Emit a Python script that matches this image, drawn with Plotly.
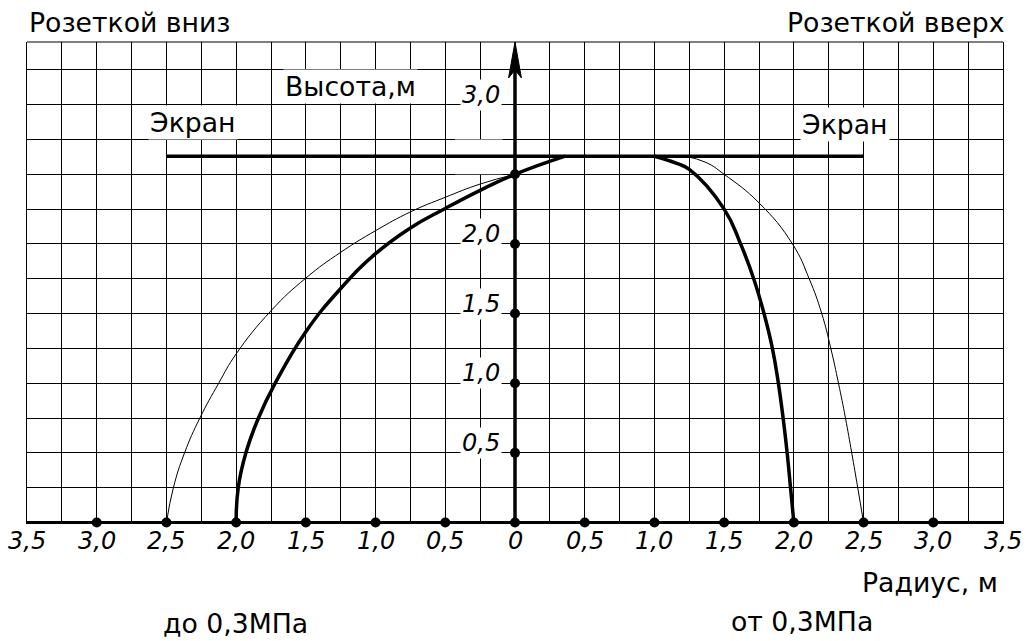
import plotly.graph_objects as go

# ---- tick values and labels ----
x_tick_vals = [-3.5, -3.0, -2.5, -2.0, -1.5, -1.0, -0.5, 0.0, 0.5, 1.0, 1.5, 2.0, 2.5, 3.0, 3.5]
x_tick_text = ["3,5", "3,0", "2,5", "2,0", "1,5", "1,0", "0,5", "0",
               "0,5", "1,0", "1,5", "2,0", "2,5", "3,0", "3,5"]
x_dot_vals = [-3.0, -2.5, -2.0, -1.5, -1.0, -0.5, 0.0, 0.5, 1.0, 1.5, 2.0, 2.5, 3.0]
y_tick_vals = [0.5, 1.0, 1.5, 2.0, 3.0]
y_tick_text = ["0,5", "1,0", "1,5", "2,0", "3,0"]
y_dot_vals = [0.5, 1.0, 1.5, 2.0, 2.5]

# ---- screen (Экран) ----
screen_x = [-2.5, 2.5]
screen_height = 2.63

# ---- left side: rosette down (до 0,3 МПа) ----
down_thick_x = [-2.0, -1.985, -1.93, -1.84, -1.72, -1.5, -1.25, -1.0, -0.75, -0.5, -0.25, 0.0, 0.36]
down_thick_y = [0.0, 0.25, 0.5, 0.75, 1.0, 1.37, 1.68, 1.93, 2.115, 2.255, 2.385, 2.50, 2.63]
down_thin_x = [-2.5, -2.45, -2.37, -2.26, -2.125, -2.0, -1.75, -1.5, -1.25, -1.0, -0.75, -0.5, -0.25, 0.0]
down_thin_y = [0.0, 0.25, 0.5, 0.75, 1.0, 1.21, 1.52, 1.755, 1.94, 2.095, 2.23, 2.335, 2.43, 2.50]

# ---- right side: rosette up (от 0,3 МПа) ----
up_thick_x = [1.0, 1.155, 1.25, 1.5, 1.618, 1.712, 1.786, 1.846, 1.889, 1.923, 1.952, 1.976, 2.0]
up_thick_y = [2.63, 2.58, 2.535, 2.25, 2.0, 1.75, 1.5, 1.25, 1.0, 0.75, 0.5, 0.25, 0.0]
up_thin_x = [1.22, 1.37, 1.50, 1.75, 1.99, 2.11, 2.20, 2.265, 2.32, 2.37, 2.415, 2.458, 2.50]
up_thin_y = [2.63, 2.585, 2.5, 2.295, 2.0, 1.75, 1.5, 1.25, 1.0, 0.75, 0.5, 0.25, 0.0]

X_MIN, X_MAX = -3.5, 3.5
Y_MIN, Y_MAX = -0.011, 3.45
FONT = "DejaVu Sans"
SMOOTH = 1.3


def pxr(x):
    """data x -> paper x"""
    return (x - X_MIN) / (X_MAX - X_MIN)


def pyr(y):
    """data y -> paper y"""
    return (y - Y_MIN) / (Y_MAX - Y_MIN)


fig = go.Figure()

# axes drawn as thick lines
fig.add_trace(go.Scatter(x=[X_MIN, X_MAX], y=[0, 0], mode="lines",
                         line=dict(color="black", width=3), hoverinfo="skip"))
arrow_len = 0.258
fig.add_trace(go.Scatter(x=[0, 0], y=[0, Y_MAX - arrow_len * 0.6], mode="lines",
                         line=dict(color="black", width=3.5), hoverinfo="skip"))

# screen
fig.add_trace(go.Scatter(x=screen_x, y=[screen_height] * len(screen_x), mode="lines",
                         line=dict(color="black", width=3.5), hoverinfo="skip"))

# curves
fig.add_trace(go.Scatter(x=down_thin_x, y=down_thin_y, mode="lines",
                         line=dict(color="black", width=1, shape="spline", smoothing=SMOOTH)))
fig.add_trace(go.Scatter(x=down_thick_x, y=down_thick_y, mode="lines",
                         line=dict(color="black", width=3.5, shape="spline", smoothing=SMOOTH)))
fig.add_trace(go.Scatter(x=up_thin_x, y=up_thin_y, mode="lines",
                         line=dict(color="black", width=1, shape="spline", smoothing=SMOOTH)))
fig.add_trace(go.Scatter(x=up_thick_x, y=up_thick_y, mode="lines",
                         line=dict(color="black", width=3.5, shape="spline", smoothing=SMOOTH)))

# dots on axes
fig.add_trace(go.Scatter(x=x_dot_vals, y=[0] * len(x_dot_vals), mode="markers",
                         marker=dict(color="black", size=10), cliponaxis=False))
fig.add_trace(go.Scatter(x=[0] * len(y_dot_vals), y=y_dot_vals, mode="markers",
                         marker=dict(color="black", size=10), cliponaxis=False))

annotations = []
for v, t in zip(x_tick_vals, x_tick_text):
    annotations.append(dict(x=pxr(v), y=pyr(-0.136), xref="paper", yref="paper",
                            text="<i>" + t + "</i>",
                            showarrow=False, xanchor="center", yanchor="middle",
                            font=dict(family=FONT, size=24, color="black")))
for v, t in zip(y_tick_vals, y_tick_text):
    annotations.append(dict(x=-0.093, y=v + 0.072, xref="x", yref="y", text="<i>" + t + "</i>",
                            showarrow=False, xanchor="right", yanchor="middle",
                            bgcolor="white",
                            font=dict(family=FONT, size=24, color="black")))


def label(text, x, y, xanchor="center", bg=None):
    d = dict(x=pxr(x), y=pyr(y), xref="paper", yref="paper", text=text, showarrow=False,
             xanchor=xanchor, yanchor="middle",
             font=dict(family=FONT, size=26.7, color="black"))
    if bg:
        d["bgcolor"] = bg
    annotations.append(d)


label("Розеткой вниз", -3.5, 3.593, "left")
label("Розеткой вверх", 3.525, 3.593, "right")
label("Высота,м", -1.664, 3.128, "left", "white")
label("Экран", -2.31, 2.87, "center", "white")
label("Экран", 2.367, 2.856, "center", "white")
label("Радиус, м", 3.478, -0.429, "right")
label("до 0,3МПа", -2.008, -0.723, "center")
label("от 0,3МПа", 2.058, -0.709, "center")

shapes = [
    # top border
    dict(type="line", xref="paper", yref="paper", x0=0, x1=1, y0=1, y1=1,
         line=dict(color="black", width=1)),
    # blank box of the omitted 2,5 label
    dict(type="rect", xref="x", yref="y", x0=-0.43, x1=-0.09, y0=2.5, y1=2.75,
         fillcolor="white", line=dict(width=0), layer="between"),
]
hw = 0.046
shapes.append(dict(
    type="path", xref="x", yref="y",
    path=f"M 0,{Y_MAX} L {hw},{Y_MAX - arrow_len} L 0,{Y_MAX - arrow_len * 0.78} "
         f"L {-hw},{Y_MAX - arrow_len} Z",
    fillcolor="black", line=dict(color="black", width=1), layer="above"))

fig.update_layout(
    width=1029, height=641,
    margin=dict(l=27, r=26, t=42, b=117),
    paper_bgcolor="white", plot_bgcolor="white",
    showlegend=False,
    xaxis=dict(range=[X_MIN, X_MAX], tick0=X_MIN, dtick=0.25, showgrid=True,
               gridcolor="black", gridwidth=1, showticklabels=False, ticks="",
               zeroline=False, showline=False, fixedrange=True),
    yaxis=dict(range=[Y_MIN, Y_MAX], tick0=0, dtick=0.25, showgrid=True,
               gridcolor="black", gridwidth=1, showticklabels=False, ticks="",
               zeroline=False, showline=True, linecolor="black", linewidth=1,
               mirror=True, fixedrange=True),
    annotations=annotations,
    shapes=shapes,
)

fig.write_html("out.html", config={"displayModeBar": False},
               post_script="document.body.style.margin='0';")
